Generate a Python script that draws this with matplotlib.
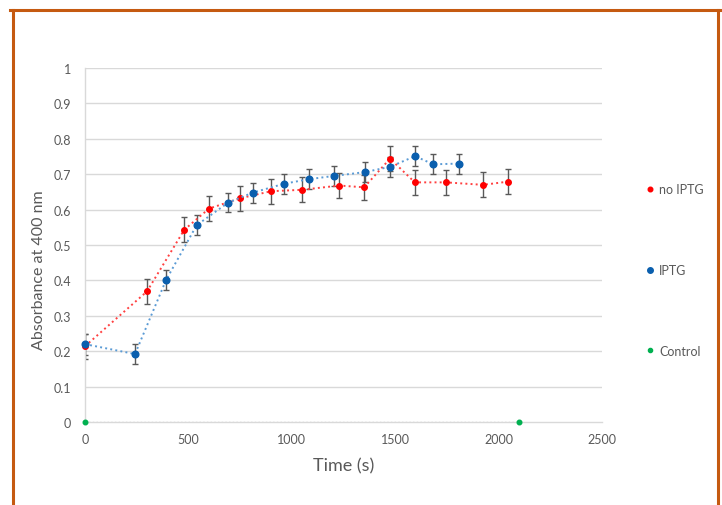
import matplotlib as mpl; mpl.use("Agg")
import matplotlib.pyplot as plt
from matplotlib.lines import Line2D

mpl.rcParams.update({"font.family": ["Lato", "DejaVu Sans"]})

# ---- data ----
t_no = [0, 300, 480, 600, 750, 900, 1050, 1230, 1350, 1475, 1595, 1745, 1925, 2045]
a_no = [0.214, 0.369, 0.543, 0.603, 0.632, 0.652, 0.656, 0.668, 0.663, 0.744, 0.677, 0.677, 0.670, 0.679]
e_no = [0.035] * len(t_no)

t_iptg = [0, 242, 392, 540, 693, 812, 962, 1083, 1202, 1354, 1476, 1596, 1684, 1807]
a_iptg = [0.220, 0.192, 0.401, 0.556, 0.620, 0.648, 0.673, 0.686, 0.695, 0.706, 0.721, 0.751, 0.728, 0.730]
e_iptg = [0.030] + [0.028] * (len(t_iptg) - 1)

t_ctrl = [0, 2100]
a_ctrl = [0.0, 0.0]

RED, BLUE, BLUE_LN, GREEN = "#FF0000", "#0A5FAE", "#5B9BD5", "#00B050"
GREY_TXT, GRID, ERR = "#595959", "#D9D9D9", "#595959"

fig = plt.figure(figsize=(7.22, 5.06), dpi=100)
ax = fig.add_axes([0.1177, 0.164, 0.7161, 0.6996])

# gridlines
for y in [0.1 * i for i in range(1, 11)]:
    ax.axhline(y, color=GRID, lw=1.0, zorder=0)

ax.plot(t_ctrl, a_ctrl, ls=":", color="#BFBFBF", lw=1.0, zorder=1)
ax.plot(t_ctrl, a_ctrl, ls="none", marker="o", ms=3.3, color=GREEN, zorder=4, clip_on=False)

ax.errorbar(t_no, a_no, yerr=e_no, fmt="none", ecolor=ERR, elinewidth=1.0, capsize=2.5, capthick=1.0, zorder=2)
ax.plot(t_no, a_no, ls=":", color="#FF4040", lw=1.4, marker="o", ms=4.0, mfc=RED, mec=RED, zorder=3, clip_on=False)

ax.errorbar(t_iptg, a_iptg, yerr=e_iptg, fmt="none", ecolor=ERR, elinewidth=1.0, capsize=2.5, capthick=1.0, zorder=2)
ax.plot(t_iptg, a_iptg, ls=":", color=BLUE_LN, lw=1.4, marker="o", ms=4.8, mfc=BLUE, mec=BLUE, zorder=3.5, clip_on=False)

ax.set_xlim(0, 2500)
ax.set_ylim(0, 1)
ax.set_xticks(range(0, 2501, 500))
ax.set_yticks([0.1 * i for i in range(11)])
ax.set_yticklabels(["0", "0.1", "0.2", "0.3", "0.4", "0.5", "0.6", "0.7", "0.8", "0.9", "1"])
ax.tick_params(length=0, labelsize=9, colors=GREY_TXT, pad=10)
ax.tick_params(axis="x", pad=8)
for s in ["top", "right"]:
    ax.spines[s].set_visible(False)
for s in ["left", "bottom"]:
    ax.spines[s].set_color(GRID)
    ax.spines[s].set_linewidth(1.0)

ax.set_xlabel("Time (s)", fontsize=13, color=GREY_TXT, labelpad=9)
ax.set_ylabel("Absorbance at 400 nm", fontsize=11.5, color=GREY_TXT, va="center")
ax.yaxis.set_label_coords(-0.089, 0.433)

# legend (Excel-style, widely spaced on the right)
handles = [Line2D([], [], ls="none", marker="o", ms=3.3, color=RED),
           Line2D([], [], ls="none", marker="o", ms=4.0, color=BLUE),
           Line2D([], [], ls="none", marker="o", ms=3.0, color=GREEN)]
leg = fig.legend(handles, ["no IPTG", "IPTG", "Control"], loc="center left",
                 bbox_to_anchor=(0.880, 0.4644), frameon=False, fontsize=9,
                 labelspacing=5.5, handlelength=0.6, handletextpad=0.4, labelcolor=GREY_TXT)

# orange frame
fig.add_artist(Line2D([0.014, 0.997], [0.978, 0.978], color="#C55A11", lw=2.2, transform=fig.transFigure))
fig.add_artist(Line2D([0.018, 0.018], [0.978, 0.0], color="#C55A11", lw=2.2, transform=fig.transFigure))
fig.add_artist(Line2D([0.994, 0.994], [0.978, 0.0], color="#C55A11", lw=2.2, transform=fig.transFigure))

fig.savefig("out.png", dpi=100)
